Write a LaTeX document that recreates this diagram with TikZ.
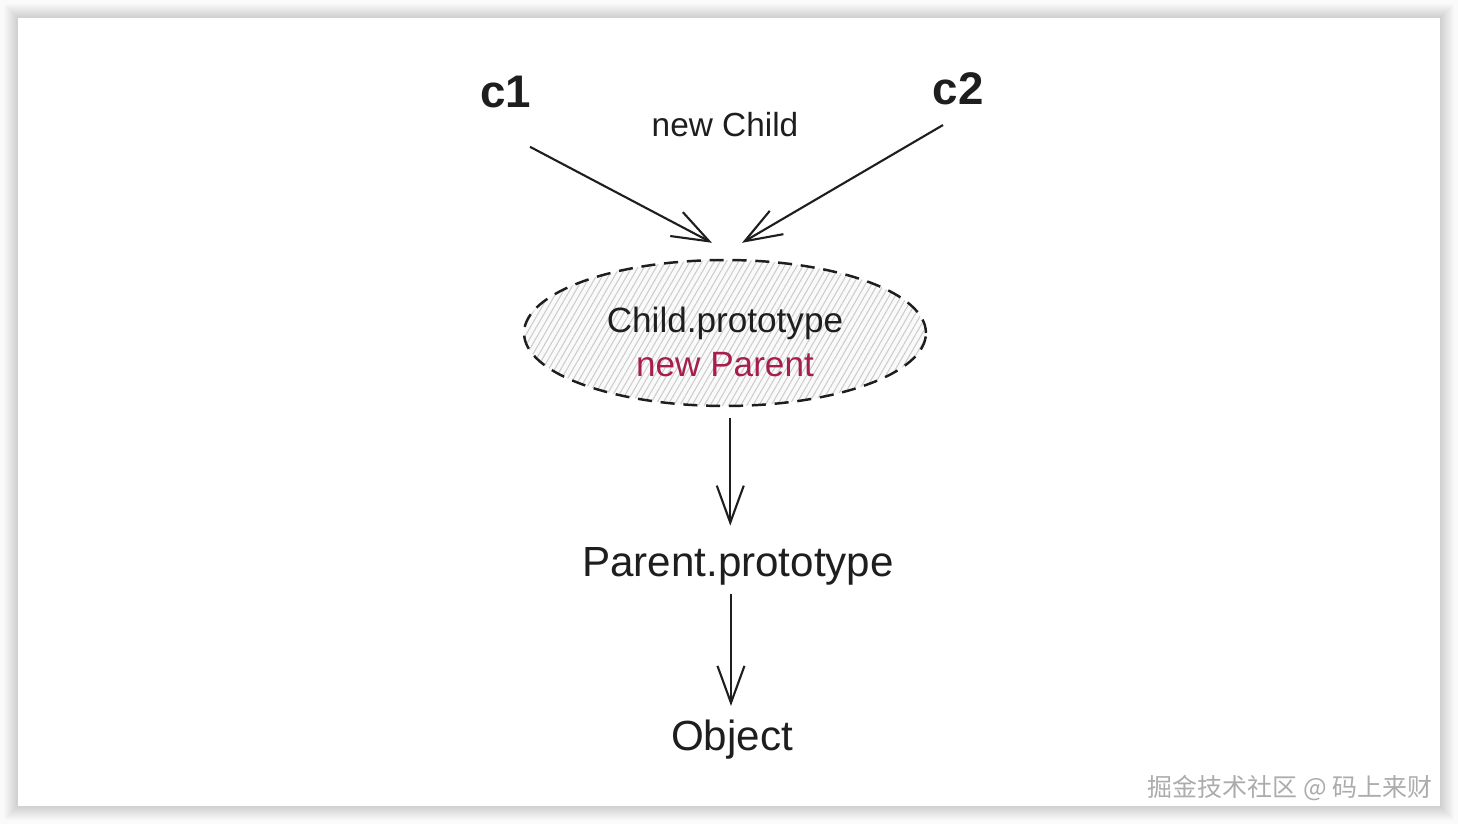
\documentclass[tikz,border=0pt]{standalone}
\usepackage{fontspec}
\setmainfont{Liberation Sans}
\newfontfamily\cjkfont{Noto Sans CJK SC}
\usetikzlibrary{shapes.geometric,arrows.meta,patterns.meta}
\definecolor{sketchink}{HTML}{1E1E1E}
\definecolor{newparent}{HTML}{A61E4D}

\begin{document}
\begin{tikzpicture}[
        x=0.02cm, y=-0.02cm,
        every node/.style={text=sketchink, inner sep=2pt, align=center},
        label text/.style={font=\fontsize{19}{24}\selectfont},
        big text/.style={font=\fontsize{24}{28}\selectfont},
        inst text/.style={font=\bfseries\fontsize{26}{30}\selectfont},
        protobox/.style={ellipse, draw=sketchink, line width=1.4pt, dash pattern=on 8pt off 5pt,
            minimum width=8.04cm, minimum height=2.92cm, inner xsep=0pt, inner ysep=-10pt,
            preaction={fill=gray!4},
            preaction={pattern={Lines[angle=60, distance=3pt, line width=0.6pt]}, pattern color=gray!40},
            font=\fontsize{20}{25}\selectfont},
        arr/.style={draw=sketchink, line width=1.2pt,
            -{Straight Barb[length=7.4mm, width=5.4mm, line width=1.2pt]}}
    ]

    % card and shadow
    \useasboundingbox (0,0) rectangle (1458,824);
    \fill[gray!4] (0,0) rectangle (1458,824);
    \foreach \d in {1,...,14}
        \fill[black, opacity=0.012] (18-\d,18-\d) rectangle (1440+\d,806+\d);
    \fill[white] (18,18) rectangle (1440,806);

    % instances
    \node[inst text] (c1) at (506,92) {c1};
    \node[inst text] (c2) at (958,89) {c2};
    \node[label text] (newchild) at (725,125) {new Child};

    % prototype chain
    \node[protobox] (proto) at (725,333) {\begin{tabular}{@{}c@{}}\rule{0pt}{32pt}Child.prototype\\\textcolor{newparent}{new Parent}\end{tabular}};
    \node[big text] (parent) at (738,566) {Parent.prototype};
    \node[big text] (obj) at (732,740) {Object};

    \draw[arr] ([shift={(24,35)}]c1.south) -- ([shift={(-13,-16)}]proto.north);
    \draw[arr] ([shift={(-15,16)}]c2.south) -- ([shift={(17,-16)}]proto.north);
    \draw[arr, shorten <=6pt, shorten >=10pt] ([xshift=3pt]proto.south) -- ([xshift=3pt]proto.south |- parent.north);
    \draw[arr, shorten <=3pt, shorten >=6pt] ([xshift=-4pt]parent.south) -- ([xshift=-4pt]parent.south |- obj.north);

    % watermark
    \node[anchor=east, text=gray!65, font=\cjkfont\fontsize{14.2}{17}\selectfont] (mark) at (1436,788) {掘金技术社区 @ 码上来财};

\end{tikzpicture}
\end{document}
